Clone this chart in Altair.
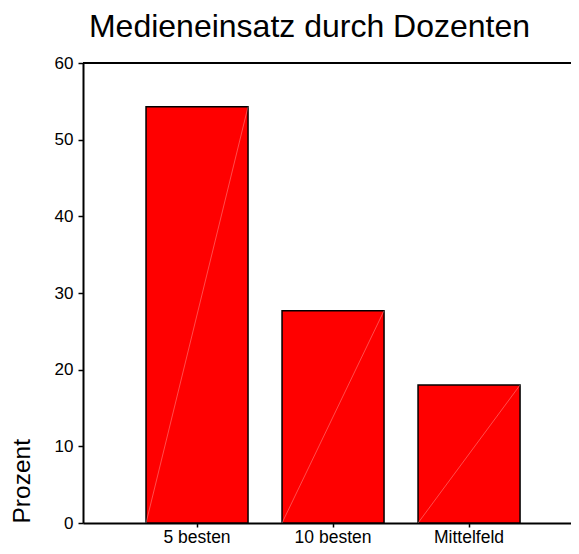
import altair as alt
import pandas as pd

categories = ["5 besten", "10 besten", "Mittelfeld"]
values = [54.3, 27.7, 18.0]
y_ticks = [0, 10, 20, 30, 40, 50, 60]
y_max = [60]

df = pd.DataFrame({"Gruppe": categories, "Prozent": values, "Basis": [0, 0, 0]})
top_df = pd.DataFrame({"y": y_max})

W, H = 488, 460
FONT = "Liberation Sans"

x_scale = alt.Scale(paddingInner=0.25, paddingOuter=0.419, align=0.553)
y_scale = alt.Scale(domain=[0, 60], nice=False, zero=True)

x_enc = alt.X(
    "Gruppe:N", sort=categories, title=None, scale=x_scale,
    axis=alt.Axis(labelAngle=0, labelFontSize=17.5, labelColor="black", labelFont=FONT,
                  tickSize=4, tickColor="black", tickWidth=1.5,
                  domainColor="black", domainWidth=2, labelPadding=1),
)
y_enc = alt.Y(
    "Prozent:Q", scale=y_scale,
    axis=alt.Axis(values=y_ticks, grid=False, labelFontSize=17, labelColor="black",
                  labelFont=FONT, tickSize=5, tickColor="black", tickWidth=1.5,
                  domainColor="black", domainWidth=2, labelPadding=5,
                  title="Prozent", titleX=-61, titleY=H, titleAlign="left",
                  titleAngle=270, titleBaseline="middle", titleFontSize=24.5,
                  titleFontWeight="normal", titleFont=FONT, titleColor="black"),
)

bars = alt.Chart(df).mark_bar(color="#ff0000", stroke="black", strokeWidth=1.5).encode(
    x=x_enc, y=y_enc
)

diag = alt.Chart(df).mark_rule(color="white", strokeWidth=0.6, opacity=0.5).encode(
    x=alt.X("Gruppe:N", sort=categories, bandPosition=0),
    x2=alt.X2("Gruppe", bandPosition=1),
    y=alt.Y("Basis:Q"),
    y2=alt.Y2("Prozent"),
)

top = alt.Chart(top_df).mark_rule(color="black", strokeWidth=2).encode(
    y=alt.Y("y:Q"), x=alt.value(0), x2=alt.value(W)
)

chart = alt.layer(bars, diag, top).properties(
    width=W, height=H,
    title=alt.TitleParams("Medieneinsatz durch Dozenten", fontSize=32, font=FONT,
                          fontWeight="normal", anchor="middle", dx=-17.5, offset=10,
                          frame="group", color="black"),
    padding={"left": 75, "top": 55, "right": 0, "bottom": 23},
    autosize="none",
).configure_view(stroke=None)

chart.save("out.html", embed_options={"renderer": "svg", "actions": False})
